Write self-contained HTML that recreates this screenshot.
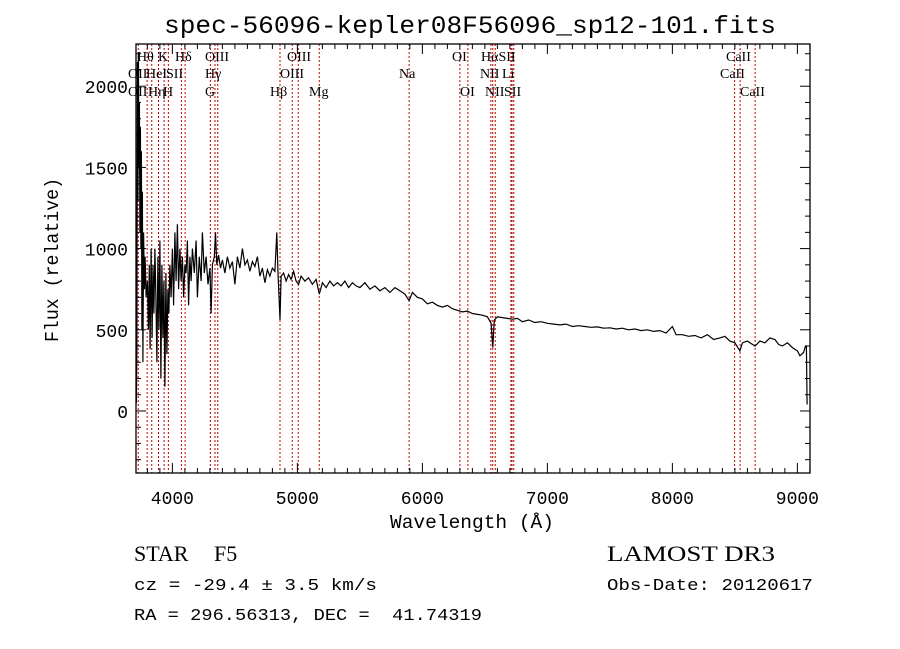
<!DOCTYPE html>
<html><head><meta charset="utf-8"><style>
html,body{margin:0;padding:0;background:#fff;width:900px;height:649px;overflow:hidden}
svg text{fill:#000;white-space:pre}
</style></head><body>
<svg id="chart" width="900" height="649" viewBox="0 0 900 649" xmlns="http://www.w3.org/2000/svg">
<rect width="900" height="649" fill="#fff"/>
<text x="470" y="33" text-anchor="middle" font-family="Liberation Mono, monospace" font-size="25" textLength="612" lengthAdjust="spacingAndGlyphs">spec-56096-kepler08F56096_sp12-101.fits</text>
<g id="lines"></g>
<g id="ticks"></g>
<path id="spec" fill="none" stroke="#000" stroke-width="1.2"/>
<rect x="136" y="44" width="674" height="429" fill="none" stroke="#000" stroke-width="1.3"/>
<g id="labels" font-family="Liberation Serif, serif" font-size="14"></g>
<text x="472" y="528" text-anchor="middle" font-family="Liberation Mono, monospace" font-size="19" textLength="164" lengthAdjust="spacingAndGlyphs">Wavelength (Å)</text>
<text transform="translate(58,260) rotate(-90)" text-anchor="middle" font-family="Liberation Mono, monospace" font-size="19" textLength="164" lengthAdjust="spacingAndGlyphs">Flux (relative)</text>
<text x="134" y="561" font-family="Liberation Serif, serif" font-size="22">STAR</text>
<text x="214" y="561" font-family="Liberation Serif, serif" font-size="22">F5</text>
<text x="607" y="561" font-family="Liberation Serif, serif" font-size="22" textLength="168" lengthAdjust="spacingAndGlyphs">LAMOST DR3</text>
<text x="134" y="590" font-family="Liberation Mono, monospace" font-size="17" textLength="243" lengthAdjust="spacingAndGlyphs">cz = -29.4 ± 3.5 km/s</text>
<text x="607" y="590" font-family="Liberation Mono, monospace" font-size="17" textLength="206" lengthAdjust="spacingAndGlyphs">Obs-Date: 20120617</text>
<text x="134" y="620" font-family="Liberation Mono, monospace" font-size="17" textLength="348" lengthAdjust="spacingAndGlyphs">RA = 296.56313, DEC =  41.74319</text>
</svg>
<script>
const wavelengths=[3712,3716,3720,3724,3728,3732,3736,3740,3744,3748,3752,3756,3760,3764,3770,3776,3782,3790,3800,3808,3815,3822,3830,3838,3845,3852,3860,3868,3876,3884,3892,3900,3908,3916,3924,3932,3940,3948,3956,3964,3972,3980,3990,4000,4010,4020,4030,4040,4050,4060,4070,4080,4090,4100,4110,4120,4130,4140,4150,4160,4175,4190,4200,4215,4230,4240,4255,4270,4285,4300,4310,4320,4335,4345,4355,4370,4385,4400,4420,4440,4460,4480,4500,4520,4540,4560,4580,4600,4620,4640,4660,4680,4700,4720,4740,4760,4780,4800,4820,4835,4845,4861,4870,4890,4910,4930,4950,4970,4990,5010,5030,5060,5090,5120,5150,5175,5200,5230,5260,5290,5320,5350,5380,5410,5440,5470,5500,5540,5580,5620,5660,5700,5740,5780,5820,5860,5894,5920,5960,6000,6040,6080,6120,6160,6200,6240,6280,6320,6360,6400,6440,6480,6520,6550,6563,6575,6600,6640,6680,6720,6760,6800,6850,6900,6950,7000,7050,7100,7150,7200,7250,7300,7350,7400,7450,7500,7550,7600,7650,7700,7750,7800,7850,7900,7950,8000,8030,8080,8130,8180,8230,8280,8330,8380,8420,8460,8500,8540,8560,8600,8640,8662,8700,8740,8780,8820,8850,8880,8920,8960,9000,9020,9050,9065,9072,9078];
const fluxes=[50,400,2150,1300,2200,1500,1900,1100,1750,1000,1600,500,1350,300,1100,750,950,700,800,500,900,380,1000,450,900,600,1000,700,300,950,500,1050,200,900,450,800,150,850,350,750,600,900,700,1000,650,1100,800,1150,750,1000,800,950,700,900,850,1050,650,950,800,1000,850,1050,700,950,800,1100,850,950,780,880,600,900,950,1100,900,960,880,930,850,950,880,920,780,950,880,1000,900,930,860,920,890,950,830,880,790,870,830,880,860,1100,850,560,830,850,800,840,810,860,800,780,830,800,820,780,810,720,790,760,800,770,790,770,800,760,790,770,760,790,750,770,740,760,730,760,740,720,680,730,700,690,660,670,650,640,650,630,620,610,615,600,595,590,580,540,390,560,580,575,570,565,570,550,560,545,550,540,535,530,535,520,525,520,515,518,510,512,505,510,500,505,495,500,490,495,480,520,470,470,460,465,450,470,440,450,460,430,420,370,420,430,410,400,430,420,450,440,410,400,420,390,370,340,360,400,400,40];
const xTicks=[4000,5000,6000,7000,8000,9000];
const yTicks=[0,500,1000,1500,2000];
const lineWaves=[3727,3798,3835,3889,3934,3968,4072,4102,4304,4341,4363,4861,4959,5007,5175,5894,6300,6364,6548,6563,6583,6708,6717,6731,8498,8542,8662];
const lineLabels=[["Hθ",137,61],["K",158,61],["Hδ",175,61],["OIII",205,61],["OIII",287,61],["OI",452,61],["HαSII",481,61],["CaII",726,61],["OII",128,78],["HeI",146,78],["SII",166,78],["Hγ",205,78],["OIII",280,78],["Na",399,78],["NII",480,78],["Li",502,78],["CaII",720,78],["OII",128,96],["Hη",148,96],["H",163,96],["G",205,96],["Hβ",270,96],["Mg",309,96],["OI",460,96],["NII",485,96],["SII",504,96],["CaII",740,96]];
const X0=3709,X1=9101,Y0=-382,Y1=2260,L=136,R=810,T=44,B=473;
function xs(w){return L+(w-X0)/(X1-X0)*(R-L);}
function ys(v){return B-(v-Y0)/(Y1-Y0)*(B-T);}
const NS="http://www.w3.org/2000/svg";
let d="";
for(let i=0;i<wavelengths.length;i++){const y=Math.max(T,Math.min(B,ys(fluxes[i])));d+=(i?"L":"M")+xs(wavelengths[i]).toFixed(1)+","+y.toFixed(1);}
document.getElementById("spec").setAttribute("d",d);
const lg=document.getElementById("lines");
for(const w of lineWaves){const l=document.createElementNS(NS,"line");


const x=xs(w);l.setAttribute("x1",x);l.setAttribute("x2",x);l.setAttribute("y1",T);l.setAttribute("y2",B);l.setAttribute("stroke","#c00000");l.setAttribute("stroke-dasharray","2,2");l.setAttribute("stroke-width","1");lg.appendChild(l);}
const tg=document.getElementById("ticks");
function tick(x1,y1,x2,y2){const l=document.createElementNS(NS,"line");


l.setAttribute("x1",x1);l.setAttribute("y1",y1);l.setAttribute("x2",x2);l.setAttribute("y2",y2);l.setAttribute("stroke","#000");tg.appendChild(l);}
for(let w=3800;w<=9100;w+=100){const x=xs(w);const m=w%1000===0;tick(x,B,x,B-(m?10:5));tick(x,T,x,T+(m?10:5));}
for(let v=-300;v<=2200;v+=100){const y=ys(v);const m=v%500===0;tick(L,y,L+(m?10:5),y);tick(R,y,R-(m?10:5),y);}
function txt(s,x,y,anchor,size,name){const t=document.createElementNS(NS,"text");


t.setAttribute("x",x);t.setAttribute("y",y);t.setAttribute("text-anchor",anchor);t.setAttribute("font-family","Liberation Mono, monospace");t.setAttribute("font-size",size);t.textContent=s;document.getElementById("chart").appendChild(t);}
for(const w of xTicks)txt(String(w),xs(w),504,"middle",18,"x-tick-label");
for(const v of yTicks)txt(String(v),128,ys(v)+7,"end",18,"y-tick-label");
const lb=document.getElementById("labels");
for(const [s,x,y] of lineLabels){const t=document.createElementNS(NS,"text");


t.setAttribute("x",x);t.setAttribute("y",y);t.textContent=s;lb.appendChild(t);}
</script>
</body></html>
